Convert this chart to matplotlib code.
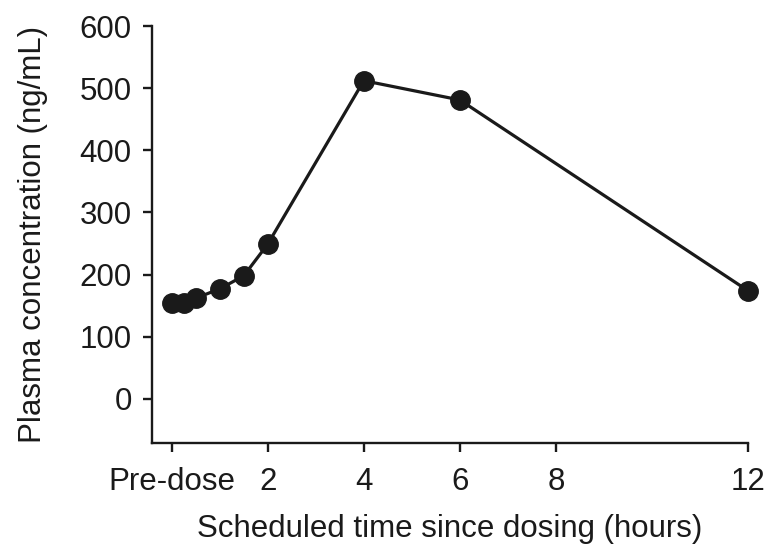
import matplotlib
matplotlib.use("Agg")
import matplotlib.pyplot as plt

times = [0, 0.25, 0.5, 1, 1.5, 2, 4, 6, 12]
conc = [154, 155, 162, 177, 198, 249, 512, 481, 174]
xticks = [0, 2, 4, 6, 8, 12]
xticklabels = ["Pre-dose", "2", "4", "6", "8", "12"]
yticks = [0, 100, 200, 300, 400, 500, 600]

plt.rcParams['font.family'] = ['Liberation Sans', 'DejaVu Sans']

fig = plt.figure(figsize=(7.68, 5.45), dpi=100)
ax = fig.add_axes([152/768, (545-443)/545, (748-152)/768, (443-26)/545])
ax.plot(times, conc, color='#1a1a1a', lw=2.3, marker='o', ms=14, mfc='#1a1a1a', mec='#1a1a1a', clip_on=False, zorder=3)
ax.set_xlim(-0.41, 12)
ax.set_ylim(-71, 600)
ax.set_xticks(xticks)
ax.set_xticklabels(xticklabels)
ax.set_yticks(yticks)
for s in ['top', 'right']:
    ax.spines[s].set_visible(False)
for s in ['left', 'bottom']:
    ax.spines[s].set_linewidth(1.7)
    ax.spines[s].set_color('#1a1a1a')
ax.tick_params(direction='out', length=6.5, width=1.7, labelsize=22.5, colors='#1a1a1a')
ax.tick_params(axis='x', pad=11)
ax.tick_params(axis='y', pad=8)
ax.set_xlabel("Scheduled time since dosing (hours)", fontsize=22.5, color='#1a1a1a', labelpad=12)
ax.set_ylabel("Plasma concentration (ng/mL)", fontsize=22.5, color='#1a1a1a', labelpad=23)
fig.savefig("out.png", dpi=100)
